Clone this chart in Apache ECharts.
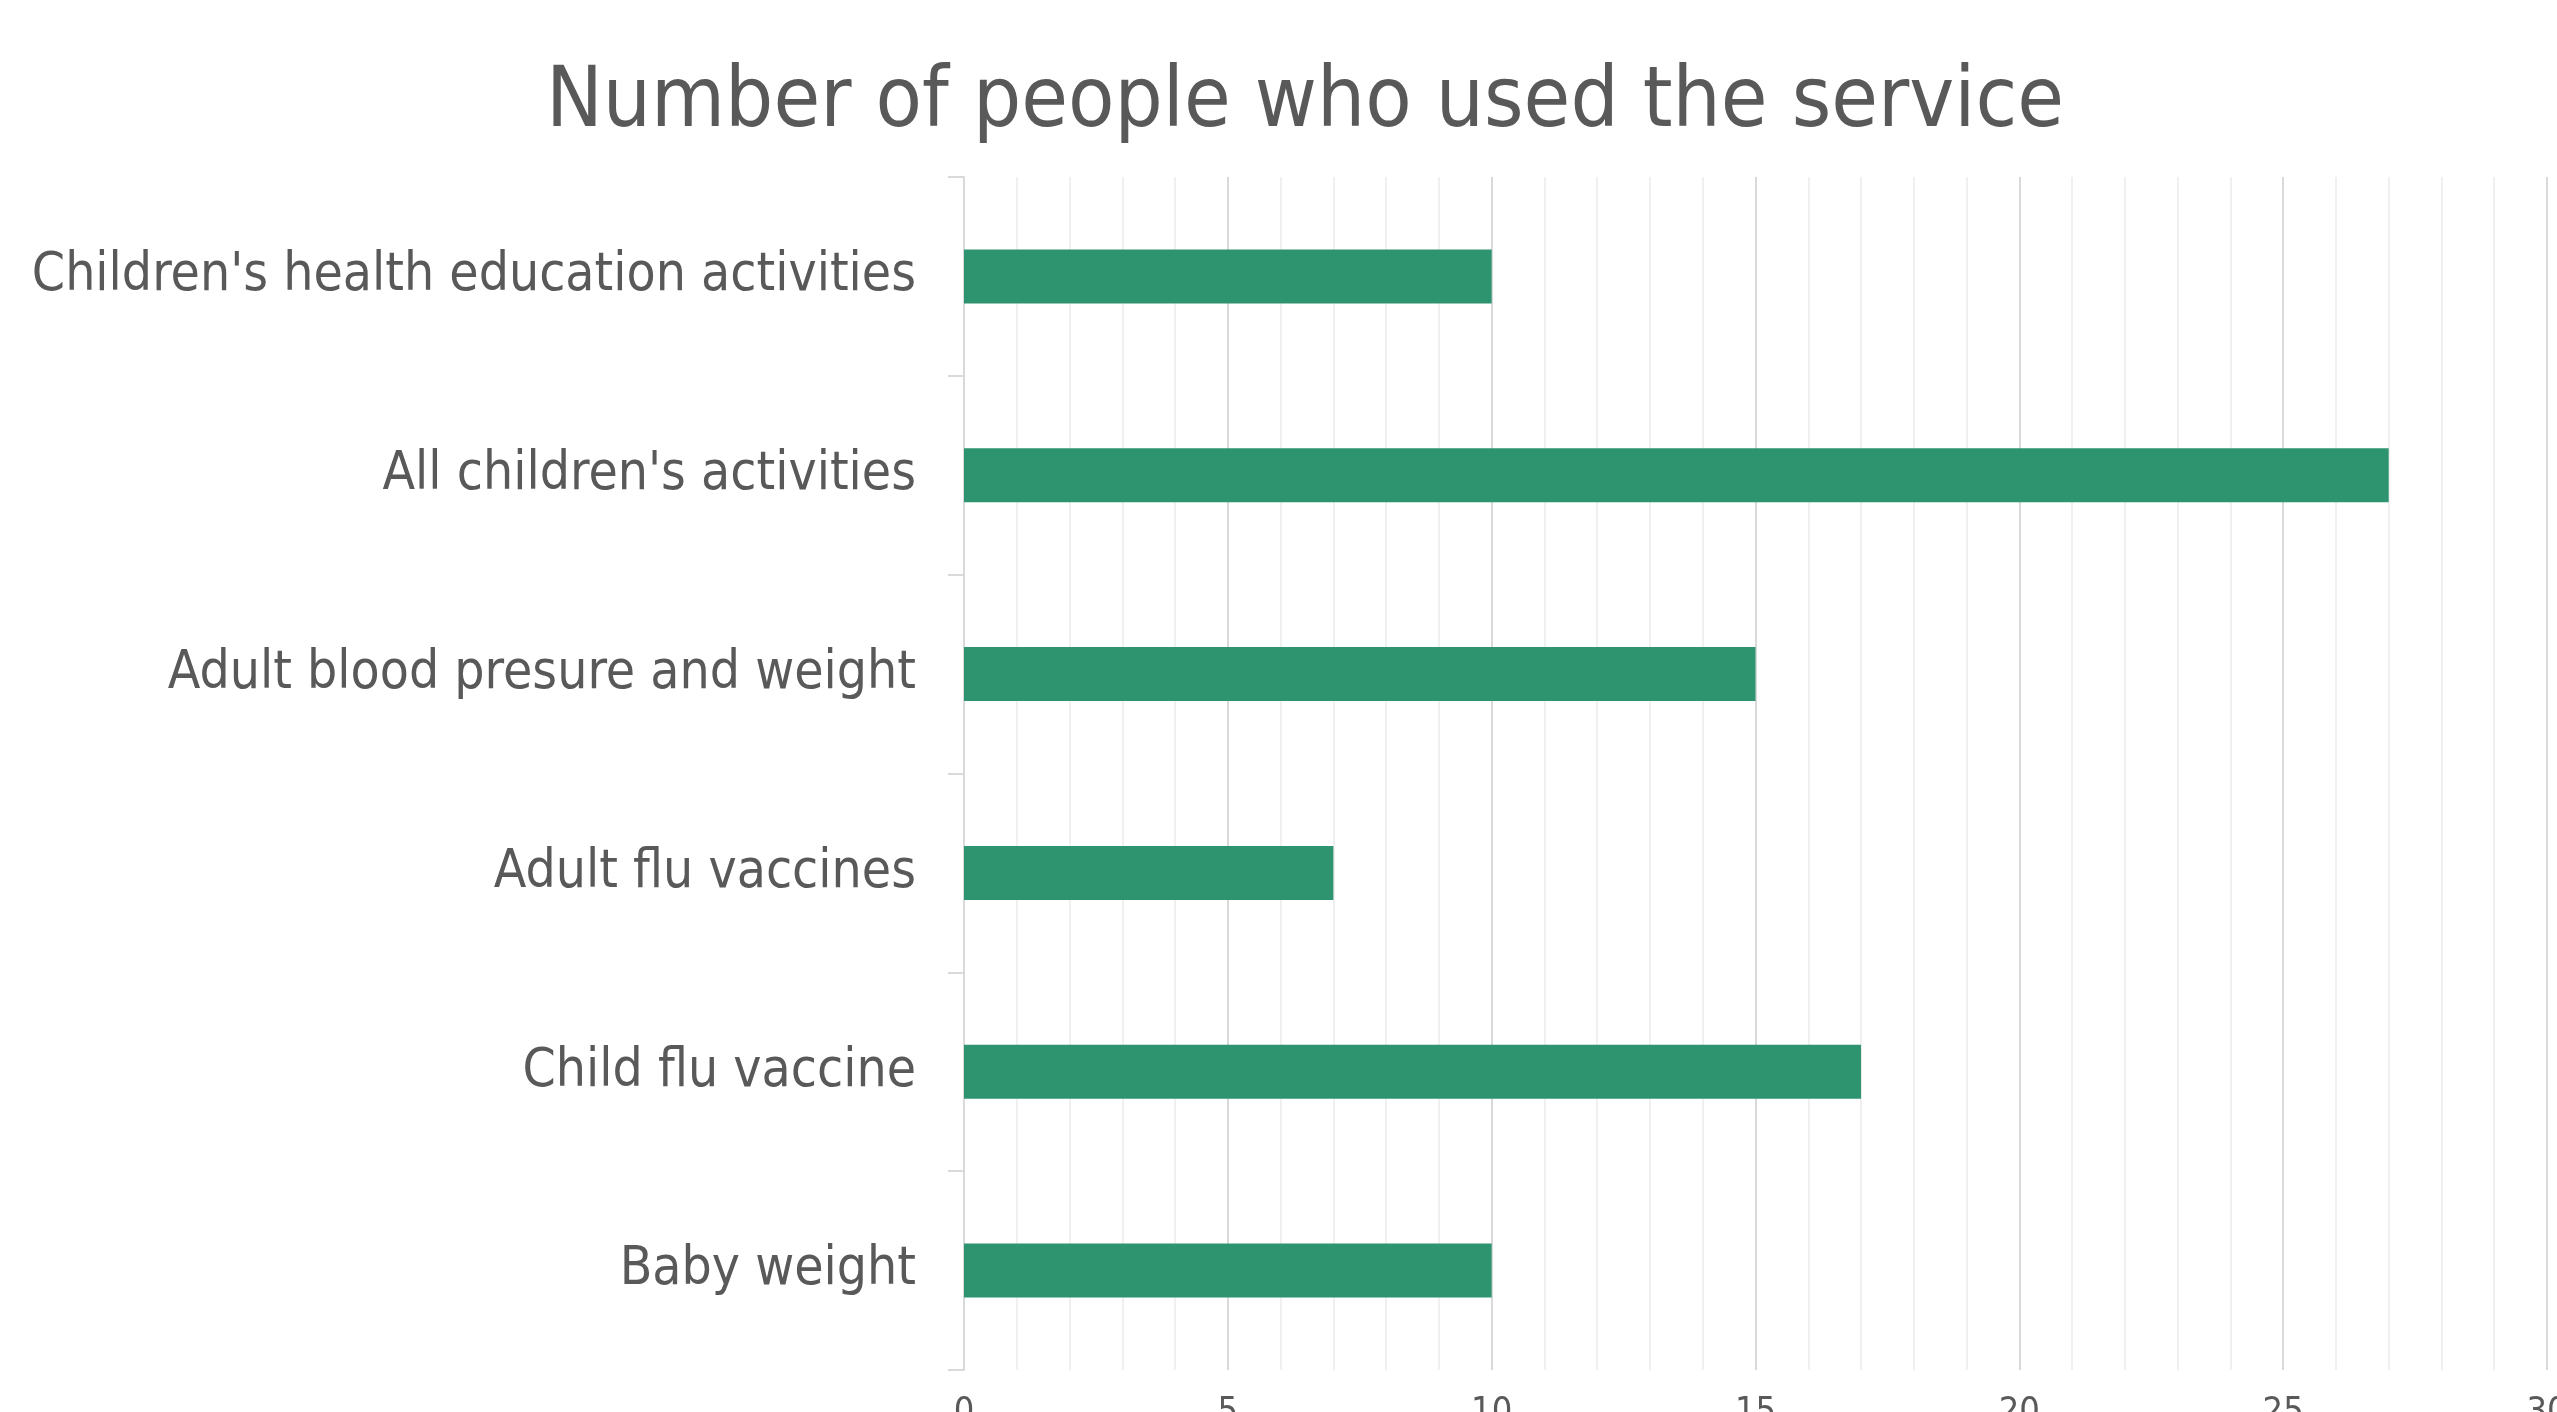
<!DOCTYPE html>
<html><head><meta charset="utf-8">
<style>html,body{margin:0;padding:0;background:#fff}#c{width:2557px;height:1412px}</style>
<script src="https://cdn.jsdelivr.net/npm/echarts@6/dist/echarts.min.js"></script>
</head><body><div id="c"></div>
<script>
const titleText = "Number of people who used the service";
const categories = ["Baby weight", "Child flu vaccine", "Adult flu vaccines", "Adult blood presure and weight", "All children's activities", "Children's health education activities"];
const values = [10, 17, 7, 15, 27, 10];
const xTicks = [0, 5, 10, 15, 20, 25, 30];

const FONT = 'Liberation Sans Narrow, DejaVu Sans Condensed, sans-serif';
const chart = echarts.init(document.getElementById('c'));
chart.setOption({
  animation: false,
  backgroundColor: '#ffffff',
  title: {
    text: titleText, left: 541, top: 57,
    textStyle: { fontFamily: FONT, fontWeight: 'normal', fontSize: 84.5, color: '#595959' }
  },
  grid: { left: 964, right: 10, top: 177, bottom: 42, containLabel: false, outerBoundsMode: 'none' },
  xAxis: {
    type: 'value', min: xTicks[0], max: xTicks[xTicks.length - 1], interval: 5,
    axisLine: { show: false }, axisTick: { show: false },
    axisLabel: { color: '#595959', fontSize: 36, margin: 25, fontFamily: FONT },
    splitLine: { show: true, lineStyle: { color: '#d9d9d9', width: 2 } },
    minorTick: { show: false, splitNumber: 5 },
    minorSplitLine: { show: true, lineStyle: { color: '#f0f0f0', width: 2 } }
  },
  yAxis: {
    type: 'category', data: categories,
    axisLine: { show: true, lineStyle: { color: '#d9d9d9', width: 2 } },
    axisTick: { show: true, length: 16, lineStyle: { color: '#d9d9d9', width: 2 } },
    axisLabel: { color: '#595959', fontSize: 53, margin: 48, padding: [6, 0, 0, 0], fontFamily: FONT }
  },
  series: [{
    type: 'bar', data: values, barWidth: 54,
    itemStyle: { color: '#2E9470' }
  }]
});
</script></body></html>
